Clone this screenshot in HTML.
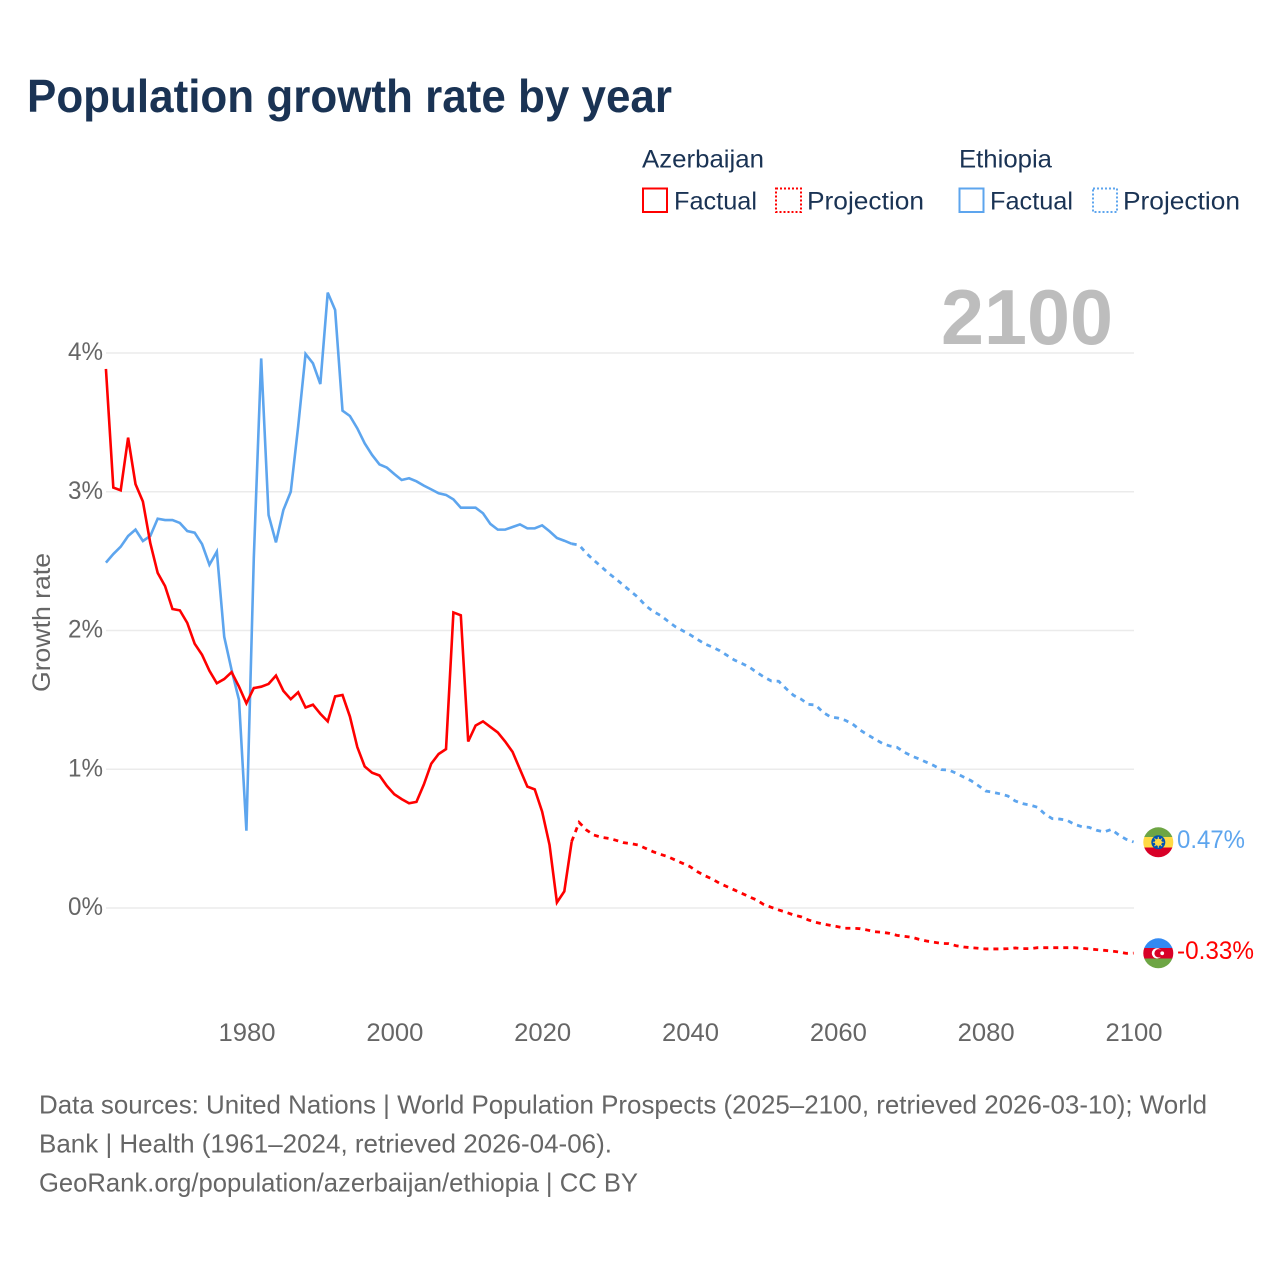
<!DOCTYPE html>
<html lang="en">
<head>
<meta charset="utf-8">
<title>Population growth rate by year</title>
<style>
  html, body { margin: 0; padding: 0; background: #fff; }
  svg { display: block; font-family: "Liberation Sans", sans-serif; }
</style>
</head>
<body>
<svg id="chart" width="1280" height="1280" viewBox="0 0 1280 1280" xmlns="http://www.w3.org/2000/svg">
  <rect width="1280" height="1280" fill="#ffffff"/>
  <text x="27" y="112" font-size="46" font-weight="700" fill="#1a3354" textLength="645" lengthAdjust="spacingAndGlyphs">Population growth rate by year</text>

  <g font-size="25" fill="#1a3354">
    <text x="642" y="167.5" textLength="122" lengthAdjust="spacingAndGlyphs">Azerbaijan</text>
    <text x="959" y="167.5" textLength="93" lengthAdjust="spacingAndGlyphs">Ethiopia</text>
    <rect x="643" y="188.5" width="24" height="23.5" fill="none" stroke="#ff0000" stroke-width="2"/>
    <text x="674" y="209.5" textLength="83" lengthAdjust="spacingAndGlyphs">Factual</text>
    <rect x="776" y="188.5" width="25" height="23.5" fill="none" stroke="#ff0000" stroke-width="2" stroke-dasharray="2 2"/>
    <text x="807" y="209.5" textLength="117" lengthAdjust="spacingAndGlyphs">Projection</text>
    <rect x="959.5" y="188.5" width="24" height="23.5" fill="none" stroke="#5da5ee" stroke-width="2"/>
    <text x="990" y="209.5" textLength="83" lengthAdjust="spacingAndGlyphs">Factual</text>
    <rect x="1093" y="188.5" width="24" height="23.5" fill="none" stroke="#5da5ee" stroke-width="2" stroke-dasharray="2 2"/>
    <text x="1123" y="209.5" textLength="117" lengthAdjust="spacingAndGlyphs">Projection</text>
  </g>

  <g id="grid"></g>
  <g id="yticks"></g>
  <g id="xticks"></g>

  <text x="941" y="344" font-size="78" font-weight="700" fill="#bdbdbd" textLength="172" lengthAdjust="spacingAndGlyphs">2100</text>
  <text transform="translate(50 622.5) rotate(-90)" text-anchor="middle" font-size="25" fill="#666666" textLength="139" lengthAdjust="spacingAndGlyphs">Growth rate</text>

  <g id="series"></g>

  <defs>
    <clipPath id="flag-clip-et"><circle id="clip-et" cx="1158.3" cy="842.3" r="15"/></clipPath>
    <clipPath id="flag-clip-az"><circle id="clip-az" cx="1158.3" cy="953.3" r="15"/></clipPath>
  </defs>

  <g clip-path="url(#flag-clip-et)">
    <rect x="1143" y="826" width="31" height="11" fill="#6da544"/>
    <rect x="1143" y="837" width="31" height="10.5" fill="#ffda44"/>
    <rect x="1143" y="847.5" width="31" height="11" fill="#d80027"/>
    <circle cx="1158.3" cy="842.3" r="7" fill="#0052b4"/>
    <circle cx="1158.3" cy="842.3" r="3.6" fill="#ffda44"/>
    <path d="M1158.3 836.9V847.7M1152.9 842.3H1163.7M1154.5 838.5L1162.1 846.1M1162.1 838.5L1154.5 846.1" stroke="#ffda44" stroke-width="1"/>
  </g>
  <g clip-path="url(#flag-clip-az)">
    <rect x="1143" y="937" width="31" height="11" fill="#338af3"/>
    <rect x="1143" y="948" width="31" height="10.5" fill="#d80027"/>
    <rect x="1143" y="958.5" width="31" height="11" fill="#6da544"/>
    <circle cx="1157" cy="953.3" r="5.2" fill="#ffffff"/>
    <circle cx="1158.6" cy="953.3" r="4.2" fill="#d80027"/>
    <circle cx="1162.2" cy="953.3" r="1.9" fill="#ffffff"/>
  </g>

  <text x="1177" y="848" font-size="25" fill="#5da5ee" textLength="68" lengthAdjust="spacingAndGlyphs">0.47%</text>
  <text x="1177" y="959" font-size="25" fill="#ff0000" textLength="77" lengthAdjust="spacingAndGlyphs">-0.33%</text>

  <g font-size="26" fill="#666666">
    <text x="39" y="1113.5" textLength="1168" lengthAdjust="spacingAndGlyphs">Data sources: United Nations | World Population Prospects (2025–2100, retrieved 2026-03-10); World</text>
    <text x="39" y="1152.5" textLength="573" lengthAdjust="spacingAndGlyphs">Bank | Health (1961–2024, retrieved 2026-04-06).</text>
    <text x="39" y="1191.5" textLength="599" lengthAdjust="spacingAndGlyphs">GeoRank.org/population/azerbaijan/ethiopia | CC BY</text>
  </g>

  <script>
    const yTickValues = [0, 1, 2, 3, 4];
    const yTickLabels = ["0%", "1%", "2%", "3%", "4%"];
    const xTickValues = [1980, 2000, 2020, 2040, 2060, 2080, 2100];
    const xTickLabels = ["1980", "2000", "2020", "2040", "2060", "2080", "2100"];

    const factualStartYear = 1961;
    const projectionStartYear = 2024;

    const azerbaijanFactual = [
      3.885, 3.03, 3.01, 3.39, 3.055, 2.93, 2.63, 2.415, 2.32, 2.155,
      2.145, 2.055, 1.905, 1.825, 1.71, 1.62, 1.65, 1.70, 1.595, 1.475,
      1.585, 1.595, 1.615, 1.675, 1.565, 1.505, 1.555, 1.445, 1.465, 1.40,
      1.345, 1.525, 1.535, 1.38, 1.16, 1.02, 0.975, 0.955, 0.88, 0.82,
      0.785, 0.755, 0.765, 0.89, 1.04, 1.11, 1.145, 2.13, 2.11, 1.20,
      1.315, 1.345, 1.305, 1.265, 1.20, 1.125, 1.0, 0.875, 0.855, 0.695,
      0.455, 0.04, 0.12, 0.48
    ];
    const azerbaijanProjection = [
      0.48, 0.617, 0.562, 0.526, 0.51, 0.502, 0.488, 0.471, 0.464, 0.454,
      0.43, 0.406, 0.387, 0.37, 0.346, 0.322, 0.298, 0.262, 0.233, 0.209,
      0.178, 0.154, 0.13, 0.106, 0.081, 0.058, 0.024, 0.005, -0.014, -0.031,
      -0.05, -0.063, -0.086, -0.103, -0.115, -0.125, -0.135, -0.146, -0.146, -0.149,
      -0.159, -0.171, -0.175, -0.183, -0.197, -0.204, -0.211, -0.226, -0.238, -0.247,
      -0.255, -0.257, -0.272, -0.281, -0.286, -0.29, -0.295, -0.295, -0.295, -0.293,
      -0.288, -0.293, -0.293, -0.286, -0.286, -0.286, -0.286, -0.286, -0.286, -0.29,
      -0.295, -0.30, -0.305, -0.31, -0.317, -0.327, -0.325
    ];
    const ethiopiaFactual = [
      2.489, 2.551, 2.604, 2.681, 2.727, 2.645, 2.681, 2.806, 2.796, 2.796,
      2.775, 2.717, 2.705, 2.623, 2.474, 2.568, 1.955, 1.715, 1.499, 0.557,
      2.52, 3.961, 2.832, 2.635, 2.868, 3.0, 3.47, 3.993, 3.926, 3.776,
      4.435, 4.31, 3.584, 3.546, 3.457, 3.349, 3.265, 3.197, 3.174, 3.128,
      3.085, 3.097, 3.075, 3.044, 3.017, 2.989, 2.977, 2.945, 2.885, 2.885,
      2.885, 2.845, 2.768, 2.727, 2.727, 2.746, 2.765, 2.736, 2.736, 2.758,
      2.715, 2.667, 2.647, 2.625
    ];
    const ethiopiaProjection = [
      2.625, 2.616, 2.556, 2.506, 2.46, 2.412, 2.371, 2.326, 2.282, 2.237,
      2.179, 2.138, 2.109, 2.068, 2.028, 1.999, 1.97, 1.936, 1.903, 1.881,
      1.855, 1.821, 1.787, 1.763, 1.737, 1.699, 1.665, 1.636, 1.634, 1.581,
      1.533, 1.506, 1.468, 1.463, 1.41, 1.377, 1.369, 1.353, 1.326, 1.283,
      1.249, 1.218, 1.187, 1.168, 1.158, 1.122, 1.095, 1.074, 1.05, 1.026,
      0.997, 0.995, 0.971, 0.944, 0.918, 0.882, 0.843, 0.834, 0.822, 0.807,
      0.771, 0.752, 0.742, 0.726, 0.677, 0.644, 0.641, 0.632, 0.603, 0.586,
      0.581, 0.56, 0.548, 0.567, 0.526, 0.495, 0.476
    ];

    const NS = "http://www.w3.org/2000/svg";
    function xScale(year) { return 246.4 + (year - 1980) * (1133.6 - 246.4) / 120; }
    function yScale(value) { return 908 - value * 138.75; }
    function tickX(year) { return 247 + (year - 1980) * (1134 - 247) / 120; }

    const gridLayer = document.getElementById("grid");
    const yTickLayer = document.getElementById("yticks");
    const xTickLayer = document.getElementById("xticks");
    const seriesLayer = document.getElementById("series");

    yTickValues.forEach(function (value, i) {
      const line = document.createElementNS(NS, "line");
      
      
      line.setAttribute("x1", 106);
      line.setAttribute("x2", 1134);
      line.setAttribute("y1", yScale(value));
      line.setAttribute("y2", yScale(value));
      line.setAttribute("stroke", "#ebebeb");
      line.setAttribute("stroke-width", "1.6");
      gridLayer.appendChild(line);

      const label = document.createElementNS(NS, "text");
      
      
      label.setAttribute("x", 68);
      label.setAttribute("y", yScale(value) + 7);
      label.setAttribute("font-size", "25");
      label.setAttribute("fill", "#666666");
      label.setAttribute("textLength", "35");
      label.setAttribute("lengthAdjust", "spacingAndGlyphs");
      label.textContent = yTickLabels[i];
      yTickLayer.appendChild(label);
    });

    xTickValues.forEach(function (year, i) {
      const label = document.createElementNS(NS, "text");
      
      
      label.setAttribute("x", tickX(year) - 28.5);
      label.setAttribute("y", 1041);
      label.setAttribute("font-size", "25");
      label.setAttribute("fill", "#666666");
      label.setAttribute("textLength", "57");
      label.setAttribute("lengthAdjust", "spacingAndGlyphs");
      label.textContent = xTickLabels[i];
      xTickLayer.appendChild(label);
    });

    function linePoints(startYear, values) {
      return values.map(function (value, i) {
        return xScale(startYear + i).toFixed(2) + "," + yScale(value).toFixed(2);
      }).join(" ");
    }

    function styleLine(el, color, dashed) {
      el.setAttribute("fill", "none");
      el.setAttribute("stroke", color);
      el.setAttribute("stroke-width", dashed ? "2.8" : "2.6");
      el.setAttribute("stroke-linejoin", "miter");
      if (dashed) el.setAttribute("stroke-dasharray", "5 5");
      seriesLayer.appendChild(el);
    }

    const ethiopiaFactualLine = document.createElementNS(NS, "polyline");
    
    
    ethiopiaFactualLine.setAttribute("points", linePoints(factualStartYear, ethiopiaFactual));
    styleLine(ethiopiaFactualLine, "#5da5ee", false);

    const ethiopiaProjectionLine = document.createElementNS(NS, "polyline");
    
    
    ethiopiaProjectionLine.setAttribute("points", linePoints(projectionStartYear, ethiopiaProjection));
    styleLine(ethiopiaProjectionLine, "#5da5ee", true);

    const azerbaijanFactualLine = document.createElementNS(NS, "polyline");
    
    
    azerbaijanFactualLine.setAttribute("points", linePoints(factualStartYear, azerbaijanFactual));
    styleLine(azerbaijanFactualLine, "#ff0000", false);

    const azerbaijanProjectionLine = document.createElementNS(NS, "polyline");
    
    
    azerbaijanProjectionLine.setAttribute("points", linePoints(projectionStartYear, azerbaijanProjection));
    styleLine(azerbaijanProjectionLine, "#ff0000", true);
  </script>
</svg>
</body>
</html>
